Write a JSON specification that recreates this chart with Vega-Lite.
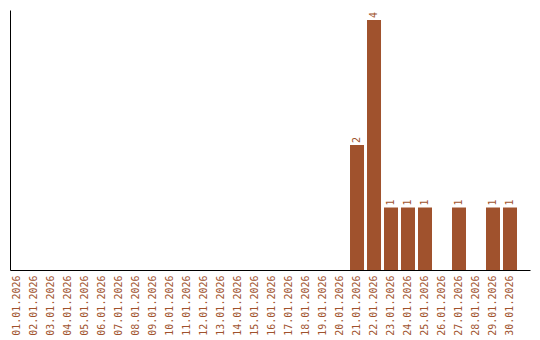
{
  "$schema": "https://vega.github.io/schema/vega-lite/v6.json",
  "width": 520,
  "height": 260,
  "autosize": {"type": "none"},
  "padding": {"left": 10, "top": 10, "right": 10, "bottom": 70},
  "background": "white",
  "config": {"view": {"stroke": null}, "font": "DejaVu Sans Mono"},
  "data": {"values": [
    {"date": "01.01.2026", "count": 0},
    {"date": "02.01.2026", "count": 0},
    {"date": "03.01.2026", "count": 0},
    {"date": "04.01.2026", "count": 0},
    {"date": "05.01.2026", "count": 0},
    {"date": "06.01.2026", "count": 0},
    {"date": "07.01.2026", "count": 0},
    {"date": "08.01.2026", "count": 0},
    {"date": "09.01.2026", "count": 0},
    {"date": "10.01.2026", "count": 0},
    {"date": "11.01.2026", "count": 0},
    {"date": "12.01.2026", "count": 0},
    {"date": "13.01.2026", "count": 0},
    {"date": "14.01.2026", "count": 0},
    {"date": "15.01.2026", "count": 0},
    {"date": "16.01.2026", "count": 0},
    {"date": "17.01.2026", "count": 0},
    {"date": "18.01.2026", "count": 0},
    {"date": "19.01.2026", "count": 0},
    {"date": "20.01.2026", "count": 0},
    {"date": "21.01.2026", "count": 2},
    {"date": "22.01.2026", "count": 4},
    {"date": "23.01.2026", "count": 1},
    {"date": "24.01.2026", "count": 1},
    {"date": "25.01.2026", "count": 1},
    {"date": "26.01.2026", "count": 0},
    {"date": "27.01.2026", "count": 1},
    {"date": "28.01.2026", "count": 0},
    {"date": "29.01.2026", "count": 1},
    {"date": "30.01.2026", "count": 1}
  ]},
  "encoding": {
    "x": {
      "field": "date", "type": "ordinal", "sort": null,
      "scale": {"paddingInner": 0.1765, "paddingOuter": 0.382, "align": 0},
      "axis": {
        "title": null, "labelAngle": -90, "labelColor": "#a0522d",
        "labelFont": "DejaVu Sans Mono", "labelFontSize": 10,
        "ticks": false, "labelPadding": 5, "domainColor": "black", "domainWidth": 1
      }
    },
    "y": {
      "field": "count", "type": "quantitative",
      "scale": {"domain": [0, 4.16], "nice": false},
      "axis": {"title": null, "labels": false, "ticks": false, "grid": false, "domainColor": "black", "domainWidth": 1}
    }
  },
  "layer": [
    {"mark": {"type": "bar", "color": "#a0522d"}},
    {
      "transform": [{"filter": "datum.count > 0"}],
      "mark": {"type": "text", "angle": 270, "align": "left", "baseline": "middle", "dx": 2, "color": "#a0522d", "font": "DejaVu Sans Mono", "fontSize": 10},
      "encoding": {"text": {"field": "count", "type": "quantitative"}}
    }
  ]
}
